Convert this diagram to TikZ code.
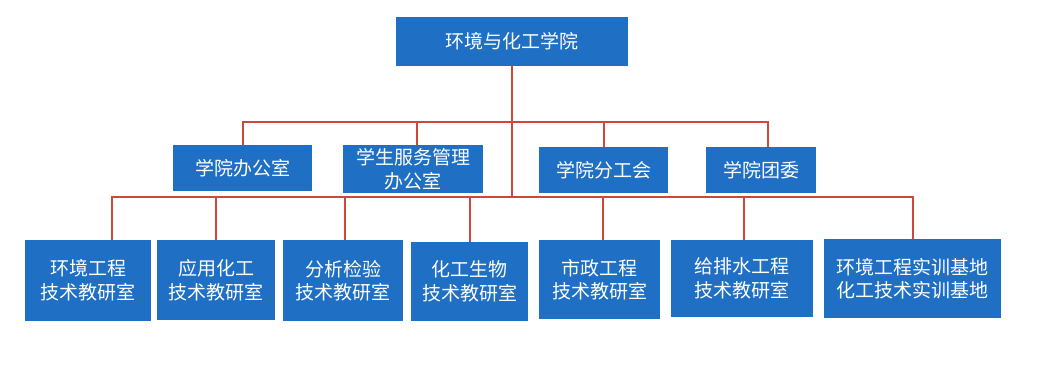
\documentclass[tikz,border=0pt]{standalone}
\usepackage{fontspec}
\newfontfamily\cjk{Noto Sans CJK SC}
\usepackage{tikz}
\usetikzlibrary{positioning}
\definecolor{boxblue}{RGB}{31,111,196}
\definecolor{linkred}{RGB}{207,70,58}

\begin{document}
\begin{tikzpicture}[
    x=1pt, y=-1pt,
    box/.style={rectangle, fill=boxblue, text=white, inner sep=0pt, align=center, font=\cjk\fontsize{19}{23.5}\selectfont},
    link/.style={draw=linkred, line width=2pt}
]
\useasboundingbox (0,0) rectangle (1046,369);

% Nodes
\node (college) [box, minimum width=232pt, minimum height=49pt] at (512,41.5) {环境与化工学院};

\node (office) [box, minimum width=139pt, minimum height=46pt] at (242.5,168) {学院办公室};
\node (student) [box, minimum width=140pt, minimum height=48pt] at (413,169) {学生服务管理\\办公室};
\node (union) [box, minimum width=129pt, minimum height=46pt] at (603.5,170) {学院分工会};
\node (youth) [box, minimum width=110pt, minimum height=46pt] at (761,170) {学院团委};

\node (envlab) [box, minimum width=126pt, minimum height=81pt] at (88,280.5) {环境工程\\技术教研室};
\node (applab) [box, minimum width=118pt, minimum height=80pt] at (216,280) {应用化工\\技术教研室};
\node (analab) [box, minimum width=120pt, minimum height=81pt] at (343,280.5) {分析检验\\技术教研室};
\node (biolab) [box, minimum width=117pt, minimum height=79pt] at (469.5,281.5) {化工生物\\技术教研室};
\node (munilab) [box, minimum width=121pt, minimum height=79pt] at (599.5,279.5) {市政工程\\技术教研室};
\node (waterlab) [box, minimum width=142pt, minimum height=77pt] at (742,278.5) {给排水工程\\技术教研室};
\node (base) [box, minimum width=177pt, minimum height=79pt] at (912.5,278.5) {环境工程实训基地\\化工技术实训基地};

\coordinate (bus1) at (512,122);
\coordinate (bus2) at (512,197);

% Lines
\draw [link] (college) -- (bus2);
\draw [link] (office.north) |- (bus1);
\draw [link] ([xshift=4pt]student.north) |- (bus1);
\draw [link] (union.north) |- (bus1);
\draw [link] ([xshift=7pt]youth.north) |- (bus1);

\draw [link] ([xshift=24pt]envlab.north) |- (bus2);
\draw [link] (applab.north) |- (bus2);
\draw [link] ([xshift=2pt]analab.north) |- (bus2);
\draw [link] (biolab.north) |- (bus2);
\draw [link] ([xshift=3pt]munilab.north) |- (bus2);
\draw [link] ([xshift=2pt]waterlab.north) |- (bus2);
\draw [link] (base.north) |- (bus2);

\end{tikzpicture}
\end{document}
